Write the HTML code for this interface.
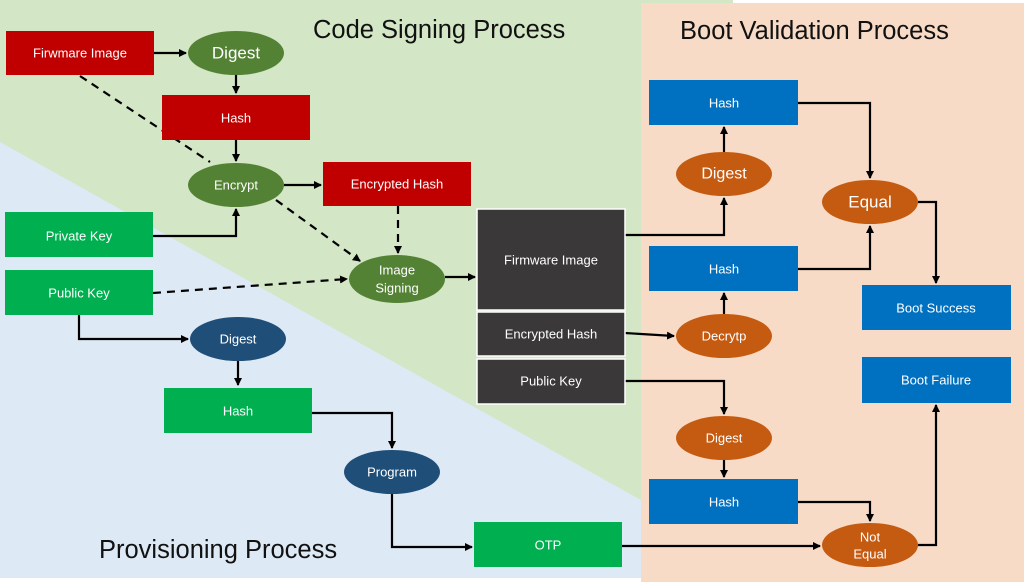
<!DOCTYPE html>
<html><head><meta charset="utf-8"><style>
html,body{margin:0;padding:0;background:#fff}
svg{display:block}
text{font-family:"Liberation Sans",sans-serif;fill:#fff;text-anchor:middle;dominant-baseline:central}
.t{fill:#111;text-anchor:start;font-size:25.5px}
</style></head><body>
<svg width="1024" height="582" viewBox="0 0 1024 582" xmlns="http://www.w3.org/2000/svg">
<defs>
<marker id="a" markerWidth="10" markerHeight="10" refX="7" refY="5" orient="auto" markerUnits="userSpaceOnUse">
<path d="M0,1 L8,5 L0,9 z" fill="#000"/></marker>
</defs>
<rect x="0" y="0" width="733" height="582" fill="#d3e6c5"/>
<polygon points="0,142 641,500 641,582 0,582" fill="#dde9f5"/>
<rect x="641" y="3" width="383" height="579" fill="#f8dbc6"/>
<rect x="0" y="578" width="641" height="4" fill="#fff"/>

<text class="t" x="313" y="30">Code Signing Process</text>
<text class="t" x="680" y="31">Boot Validation Process</text>
<text class="t" x="99" y="550">Provisioning Process</text>

<g fill="none" stroke="#000" stroke-width="2.2">
<path d="M154,53 H186" marker-end="url(#a)"/>
<path d="M236,75 V93" marker-end="url(#a)"/>
<path d="M236,140 V161" marker-end="url(#a)"/>
<path d="M284,185 H321" marker-end="url(#a)"/>
<path d="M153,236 H236 V209" marker-end="url(#a)"/>
<path d="M80,76 L210,162" stroke-dasharray="8,6"/>
<path d="M276,200 L360,261" stroke-dasharray="8,6" marker-end="url(#a)"/>
<path d="M398,206 V253" stroke-dasharray="8,6" marker-end="url(#a)"/>
<path d="M153,293 L347,279" stroke-dasharray="8,6" marker-end="url(#a)"/>
<path d="M445,277 H475" marker-end="url(#a)"/>
<path d="M79,315 V339 H188" marker-end="url(#a)"/>
<path d="M238,361 V385" marker-end="url(#a)"/>
<path d="M312,413 H392 V448" marker-end="url(#a)"/>
<path d="M392,494 V547 H472" marker-end="url(#a)"/>
<path d="M622,546 H820" marker-end="url(#a)"/>
<path d="M625,235 H724 V198" marker-end="url(#a)"/>
<path d="M724,152 V127" marker-end="url(#a)"/>
<path d="M798,103 H870 V178" marker-end="url(#a)"/>
<path d="M798,269 H870 V226" marker-end="url(#a)"/>
<path d="M724,314 V293" marker-end="url(#a)"/>
<path d="M625,333 L674,336" marker-end="url(#a)"/>
<path d="M625,381 H724 V414" marker-end="url(#a)"/>
<path d="M724,460 V477" marker-end="url(#a)"/>
<path d="M798,502 H870 V521" marker-end="url(#a)"/>
<path d="M918,202 H936 V283" marker-end="url(#a)"/>
<path d="M918,545 H936 V405" marker-end="url(#a)"/>
</g>

<g fill="#c00000">
<rect x="6" y="31" width="148" height="44"/>
<rect x="162" y="95" width="148" height="45"/>
<rect x="323" y="162" width="148" height="44"/>
</g>
<text x="80" y="53" font-size="13">Firwmare Image</text>
<text x="236" y="118" font-size="13">Hash</text>
<text x="397" y="184" font-size="13">Encrypted Hash</text>

<g fill="#548235">
<ellipse cx="236" cy="53" rx="48" ry="22"/>
<ellipse cx="236" cy="185" rx="48" ry="22"/>
<ellipse cx="397" cy="279" rx="48" ry="24"/>
</g>
<text x="236" y="53" font-size="17">Digest</text>
<text x="236" y="185" font-size="13">Encrypt</text>
<text x="397" y="270" font-size="13">Image</text>
<text x="397" y="288" font-size="13">Signing</text>

<g fill="#00b050">
<rect x="5" y="212" width="148" height="45"/>
<rect x="5" y="270" width="148" height="45"/>
<rect x="164" y="388" width="148" height="45"/>
<rect x="474" y="522" width="148" height="45"/>
</g>
<text x="79" y="236" font-size="13">Private Key</text>
<text x="79" y="293" font-size="13">Public Key</text>
<text x="238" y="411" font-size="13">Hash</text>
<text x="548" y="545" font-size="13">OTP</text>

<g fill="#1f4e79">
<ellipse cx="238" cy="339" rx="48" ry="22"/>
<ellipse cx="392" cy="472" rx="48" ry="22"/>
</g>
<text x="238" y="339" font-size="13">Digest</text>
<text x="392" y="472" font-size="13">Program</text>

<g fill="#3a3838" stroke="#fff" stroke-width="1.5">
<rect x="477" y="209" width="148" height="101"/>
<rect x="477" y="312" width="148" height="44"/>
<rect x="477" y="359" width="148" height="45"/>
</g>
<text x="551" y="260" font-size="13">Firmware Image</text>
<text x="551" y="334" font-size="13">Encrypted Hash</text>
<text x="551" y="381" font-size="13">Public Key</text>

<g fill="#0070c0">
<rect x="649" y="80" width="149" height="45"/>
<rect x="649" y="246" width="149" height="45"/>
<rect x="649" y="479" width="149" height="45"/>
<rect x="862" y="285" width="149" height="45"/>
<rect x="862" y="357" width="149" height="46"/>
</g>
<text x="724" y="103" font-size="13">Hash</text>
<text x="724" y="269" font-size="13">Hash</text>
<text x="724" y="502" font-size="13">Hash</text>
<text x="936" y="308" font-size="13">Boot Success</text>
<text x="936" y="380" font-size="13">Boot Failure</text>

<g fill="#c55a11">
<ellipse cx="724" cy="174" rx="48" ry="22"/>
<ellipse cx="724" cy="336" rx="48" ry="22"/>
<ellipse cx="724" cy="438" rx="48" ry="22"/>
<ellipse cx="870" cy="202" rx="48" ry="22"/>
<ellipse cx="870" cy="545" rx="48" ry="22"/>
</g>
<text x="724" y="174" font-size="16">Digest</text>
<text x="724" y="336" font-size="13">Decrytp</text>
<text x="724" y="438" font-size="13">Digest</text>
<text x="870" y="202" font-size="17">Equal</text>
<text x="870" y="537" font-size="13">Not</text>
<text x="870" y="554" font-size="13">Equal</text>
</svg>
</body></html>
